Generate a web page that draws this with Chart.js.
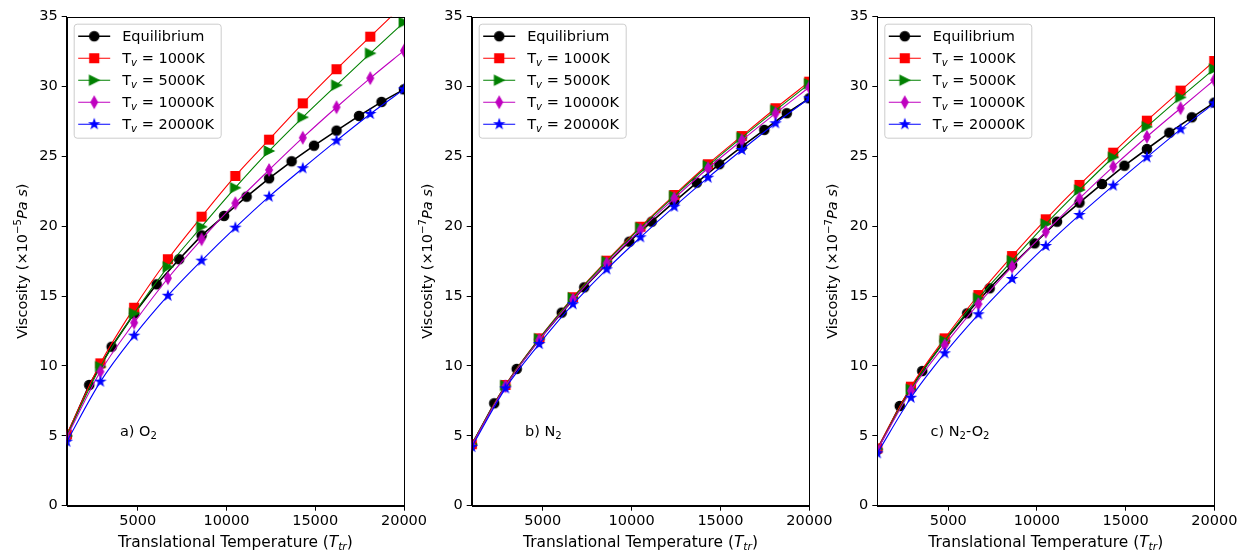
<!DOCTYPE html>
<html>
<head>
<meta charset="utf-8">
<script src="https://cdn.jsdelivr.net/npm/chart.js@4.4.1/dist/chart.umd.min.js"></script>
<style>
body { margin: 0; background: #fff; width: 1250px; height: 552px; position: relative; overflow: hidden; }
canvas { position: absolute; top: 0; }
</style>
</head>
<body>
<canvas id="chart-o2" width="430" height="552" style="left:0px;width:430px;height:552px"></canvas>
<canvas id="chart-n2" width="430" height="552" style="left:410px;width:430px;height:552px"></canvas>
<canvas id="chart-mix" width="430" height="552" style="left:820px;width:430px;height:552px"></canvas>
<script>
// temperatures where the markers sit
var eqTemps = [1000, 2267, 3533, 4800, 6067, 7333, 8600, 9867, 11133, 12400, 13667, 14933, 16200, 17467, 18733, 20000];
var tvTemps = [1000, 2900, 4800, 6700, 8600, 10500, 12400, 14300, 16200, 18100, 20000];
var xTicks = [5000, 10000, 15000, 20000];
var yTicks = [0, 5, 10, 15, 20, 25, 30, 35];

// a) O2
var o2Eq = [5.0, 8.64, 11.38, 13.75, 15.85, 17.64, 19.35, 20.74, 22.12, 23.43, 24.65, 25.77, 26.85, 27.9, 28.9, 29.8];
var o2Tv1000 = [5.1, 10.19, 14.17, 17.64, 20.69, 23.6, 26.2, 28.8, 31.24, 33.57, 35.9];
var o2Tv5000 = [5.0, 9.95, 13.77, 17.1, 19.97, 22.76, 25.39, 27.8, 30.1, 32.38, 34.6];
var o2Tv10000 = [4.9, 9.6, 13.1, 16.28, 19.07, 21.65, 24.03, 26.34, 28.52, 30.6, 32.57];
var o2Tv20000 = [4.58, 8.88, 12.17, 15.03, 17.54, 19.9, 22.12, 24.15, 26.13, 28.04, 29.8];

// b) N2
var n2Eq = [4.35, 7.33, 9.79, 11.9, 13.82, 15.63, 17.3, 18.9, 20.33, 21.75, 23.12, 24.44, 25.7, 26.9, 28.09, 29.16];
var n2Tv1000 = [4.4, 8.64, 11.98, 14.92, 17.54, 19.97, 22.24, 24.44, 26.46, 28.45, 30.35];
var n2Tv5000 = [4.4, 8.6, 11.95, 14.88, 17.48, 19.9, 22.15, 24.33, 26.35, 28.3, 30.2];
var n2Tv10000 = [4.35, 8.55, 11.85, 14.75, 17.35, 19.75, 22.0, 24.15, 26.15, 28.08, 29.95];
var n2Tv20000 = [4.2, 8.4, 11.57, 14.42, 16.92, 19.21, 21.4, 23.48, 25.46, 27.37, 29.16];

// c) N2-O2
var mixEq = [4.0, 7.14, 9.64, 11.8, 13.77, 15.56, 17.23, 18.78, 20.33, 21.69, 23.03, 24.34, 25.53, 26.7, 27.8, 28.85];
var mixTv1000 = [4.1, 8.52, 11.98, 15.08, 17.87, 20.5, 22.96, 25.27, 27.56, 29.71, 31.83];
var mixTv5000 = [4.05, 8.33, 11.81, 14.85, 17.54, 20.16, 22.6, 24.94, 27.13, 29.23, 31.26];
var mixTv10000 = [4.0, 8.23, 11.5, 14.44, 17.11, 19.61, 22.0, 24.27, 26.41, 28.45, 30.47];
var mixTv20000 = [3.75, 7.73, 10.91, 13.7, 16.23, 18.59, 20.81, 22.91, 24.94, 26.94, 28.8];

var FONT = "'DejaVu Sans'";
var FS = 14.5;

// matplotlib-like marker images
function marker(kind, color) {
    var c = document.createElement("canvas");
    c.width = 16; c.height = 16;
    var g = c.getContext("2d");
    var m = 8;
    g.fillStyle = color; g.strokeStyle = color; g.lineWidth = 1.2; g.lineJoin = "miter";
    g.beginPath();
    if (kind == "o") {
        g.arc(m, m, 4.7, 0, 2 * Math.PI);
    } else if (kind == "s") {
        g.rect(m - 4.5, m - 4.5, 9, 9);
    } else if (kind == ">") {
        g.moveTo(m + 4.8, m); g.lineTo(m - 4.8, m - 4.8); g.lineTo(m - 4.8, m + 4.8);
    } else if (kind == "d") {
        g.moveTo(m, m - 5.7); g.lineTo(m + 3.3, m); g.lineTo(m, m + 5.7); g.lineTo(m - 3.3, m);
    } else {
        for (var i = 0; i < 10; i++) {
            var r = i % 2 == 0 ? 4.7 : 1.85;
            var a = -Math.PI / 2 + i * Math.PI / 5;
            if (i == 0) g.moveTo(m + r * Math.cos(a), m + r * Math.sin(a));
            else g.lineTo(m + r * Math.cos(a), m + r * Math.sin(a));
        }
    }
    g.closePath(); g.fill(); g.stroke();
    return c;
}

// draw text pieces: flags i = italic, b = subscript, p = superscript
function drawRich(ctx, segs, x, y, align, size) {
    var fs = size || FS;
    function fontOf(f) {
        var s = (f.indexOf("b") >= 0 || f.indexOf("p") >= 0) ? fs * 0.7 : fs;
        return (f.indexOf("i") >= 0 ? "italic " : "") + s + "px " + FONT;
    }
    var total = 0;
    segs.forEach(function (s) { ctx.font = fontOf(s[1]); total += ctx.measureText(s[0]).width; });
    var cx = align == "center" ? x - total / 2 : x;
    ctx.textAlign = "left";
    ctx.textBaseline = "alphabetic";
    segs.forEach(function (s) {
        ctx.font = fontOf(s[1]);
        var dy = s[1].indexOf("b") >= 0 ? fs * 0.2 : (s[1].indexOf("p") >= 0 ? -fs * 0.4 : 0);
        ctx.fillText(s[0], cx, y + dy);
        cx += ctx.measureText(s[0]).width;
    });
}

var framePlugin = {
    id: "frame",
    afterDatasetsDraw: function (chart) {
        var a = chart.chartArea, ctx = chart.ctx, o = chart.options.extra;
        ctx.save();
        // top and right spines
        ctx.strokeStyle = "#000"; ctx.lineWidth = 1;
        ctx.strokeRect(Math.round(a.left) + 0.5, Math.round(a.top) + 0.5, Math.round(a.right) - Math.round(a.left), Math.round(a.bottom) - Math.round(a.top));
        // panel tag
        ctx.fillStyle = "#000";
        drawRich(ctx, o.tag, chart.scales.x.getPixelForValue(4000), chart.scales.y.getPixelForValue(5), "left");
        // legend box
        var x0 = a.left + 7.5, y0 = a.top + 7.5, w = 147, h = 114, r = 3;
        ctx.beginPath();
        ctx.moveTo(x0 + r, y0); ctx.lineTo(x0 + w - r, y0); ctx.arcTo(x0 + w, y0, x0 + w, y0 + r, r);
        ctx.lineTo(x0 + w, y0 + h - r); ctx.arcTo(x0 + w, y0 + h, x0 + w - r, y0 + h, r);
        ctx.lineTo(x0 + r, y0 + h); ctx.arcTo(x0, y0 + h, x0, y0 + h - r, r);
        ctx.lineTo(x0, y0 + r); ctx.arcTo(x0, y0, x0 + r, y0, r);
        ctx.closePath();
        ctx.fillStyle = "rgba(255,255,255,0.8)"; ctx.fill();
        ctx.strokeStyle = "#cccccc"; ctx.lineWidth = 1; ctx.stroke();
        chart.data.datasets.forEach(function (ds, i) {
            var cy = y0 + 12 + i * 22;
            ctx.strokeStyle = ds.borderColor; ctx.lineWidth = ds.borderWidth;
            ctx.beginPath(); ctx.moveTo(x0 + 4, cy); ctx.lineTo(x0 + 36, cy); ctx.stroke();
            ctx.drawImage(ds.pointStyle, x0 + 20 - 8, cy - 8);
            ctx.fillStyle = "#000";
            drawRich(ctx, ds.rich, x0 + 48, cy + 5, "left");
        });
        // axis titles
        drawRich(ctx, o.xTitle, (a.left + a.right) / 2, 547, "center", 15.4);
        ctx.translate(a.left - 45, (a.top + a.bottom) / 2);
        ctx.rotate(-Math.PI / 2);
        drawRich(ctx, o.yTitle, 0, 5, "center");
        ctx.restore();
    }
};

var names = [
    [["Equilibrium", ""]],
    [["T", ""], ["v", "ib"], [" = 1000K", ""]],
    [["T", ""], ["v", "ib"], [" = 5000K", ""]],
    [["T", ""], ["v", "ib"], [" = 10000K", ""]],
    [["T", ""], ["v", "ib"], [" = 20000K", ""]]
];
var colors = ["#000000", "#ff0000", "#008000", "#bf00bf", "#0000ff"];
var kinds = ["o", "s", ">", "d", "*"];
var xTitle = [["Translational Temperature (", ""], ["T", "i"], ["tr", "ib"], [")", ""]];

function pairs(xs, ys) {
    return xs.map(function (x, i) { return { x: x, y: ys[i] }; });
}

function makeChart(id, series, power, tag, yWidth, padRight) {
    var sets = series.map(function (ys, i) {
        return {
            label: names[i].map(function (s) { return s[0]; }).join(""),
            rich: names[i],
            data: pairs(i == 0 ? eqTemps : tvTemps, ys),
            borderColor: colors[i],
            backgroundColor: colors[i],
            borderWidth: i == 0 ? 1.6 : 1.1,
            pointStyle: marker(kinds[i], colors[i]),
            pointRadius: 5,
            tension: i == 0 ? 0 : 0.3,
            cubicInterpolationMode: i == 0 ? "default" : "monotone",
            clip: 0,
            order: 4 - i
        };
    });
    return new Chart(document.getElementById(id), {
        type: "line",
        data: { datasets: sets },
        options: {
            responsive: false,
            animation: false,
            devicePixelRatio: 1,
            events: [],
            layout: { padding: { top: 16.7, right: padRight, bottom: 0, left: 0 } },
            plugins: { legend: { display: false }, tooltip: { enabled: false } },
            extra: {
                tag: tag,
                xTitle: xTitle,
                yTitle: [["Viscosity (", ""], ["\u00d710", ""], ["\u2212" + power, "p"], ["Pa s", "i"], [")", ""]]
            },
            scales: {
                x: {
                    type: "linear", min: 1000, max: 20000,
                    afterBuildTicks: function (s) { s.ticks = xTicks.map(function (v) { return { value: v }; }); },
                    afterFit: function (s) { s.height = 46.3; },
                    ticks: {
                        color: "#000", font: { family: FONT, size: FS }, maxRotation: 0, autoSkip: false, padding: 2,
                        callback: function (v) { return String(v); }
                    },
                    grid: { drawOnChartArea: false, color: "#000", tickLength: 5 },
                    border: { color: "#000", width: 1 }
                },
                y: {
                    min: 0, max: 35,
                    afterBuildTicks: function (s) { s.ticks = yTicks.map(function (v) { return { value: v }; }); },
                    afterFit: function (s) { s.width = yWidth; },
                    ticks: { color: "#000", font: { family: FONT, size: FS }, padding: 4 },
                    grid: { drawOnChartArea: false, color: "#000", tickLength: 5 },
                    border: { color: "#000", width: 1 }
                }
            }
        },
        plugins: [framePlugin]
    });
}

makeChart("chart-o2", [o2Eq, o2Tv1000, o2Tv5000, o2Tv10000, o2Tv20000], "5", [["a) O", ""], ["2", "b"]], 66.7, 26);
makeChart("chart-n2", [n2Eq, n2Tv1000, n2Tv5000, n2Tv10000, n2Tv20000], "7", [["b) N", ""], ["2", "b"]], 61.7, 30.7);
makeChart("chart-mix", [mixEq, mixTv1000, mixTv5000, mixTv10000, mixTv20000], "7", [["c) N", ""], ["2", "b"], ["-O", ""], ["2", "b"]], 57.3, 35.7);
</script>
</body>
</html>
